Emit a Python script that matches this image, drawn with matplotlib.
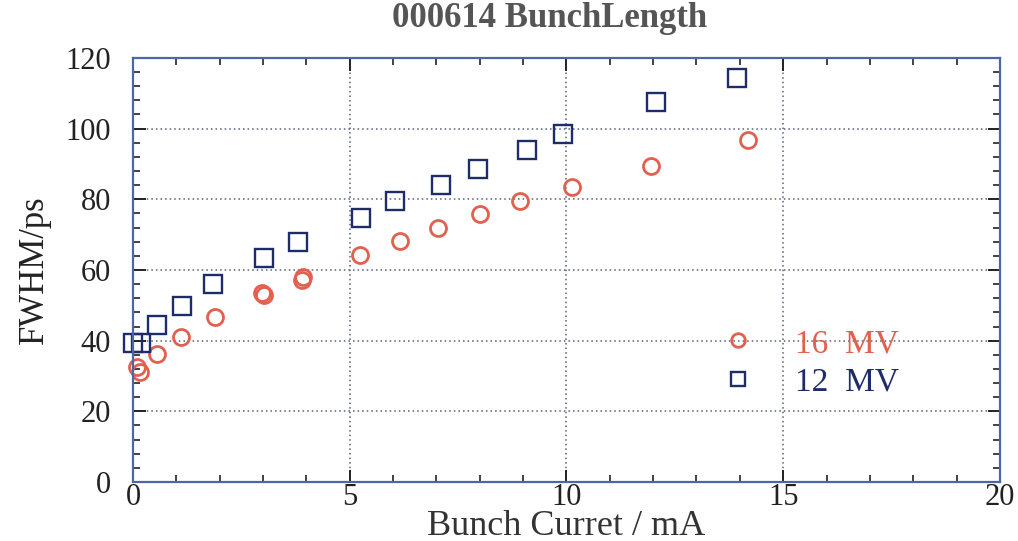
import matplotlib.pyplot as plt
from matplotlib.ticker import MultipleLocator

# Bunch current (mA) and FWHM (ps)
current_16mv = [0.08, 0.15, 0.55, 1.1, 1.89, 2.98, 3.02, 3.89, 3.92, 5.23, 6.17,
                7.03, 8.0, 8.93, 10.12, 11.95, 14.18]
fwhm_16mv = [32.5, 31.2, 36.3, 41.0, 46.8, 53.6, 53.0, 57.2, 57.9, 64.3, 68.1,
             71.9, 75.9, 79.4, 83.4, 89.3, 96.9]

current_12mv = [0.0, 0.18, 0.55, 1.13, 1.84, 3.02, 3.8, 5.25, 6.04, 7.1, 7.95,
                9.08, 9.93, 12.07, 13.94]
fwhm_12mv = [39.2, 39.2, 44.5, 49.9, 56.0, 63.5, 68.0, 74.8, 79.6, 83.9, 88.7,
             93.8, 98.6, 107.6, 114.4]

plt.rcParams['font.family'] = ['Liberation Serif', 'DejaVu Serif']

red = '#e2604f'
navy = '#1e2d6a'
axis_blue = '#4a68a8'

fig = plt.figure(figsize=(10.18, 5.41), dpi=100)
ax = fig.add_axes([0.1307, 0.109, 0.8515, 0.784])

ax.plot(current_16mv, fwhm_16mv, 'o', ms=11.5, mfc='none', mec=red, mew=2.0,
        label='16  MV', clip_on=False)
ax.plot(current_12mv, fwhm_12mv, 's', ms=12.5, mfc='none', mec=navy, mew=1.7,
        label='12  MV', clip_on=False)

ax.set_xlim(0, 20)
ax.set_ylim(0, 120)
ax.xaxis.set_major_locator(MultipleLocator(5))
ax.xaxis.set_minor_locator(MultipleLocator(1))
ax.yaxis.set_major_locator(MultipleLocator(20))
ax.yaxis.set_minor_locator(MultipleLocator(4))

ax.tick_params(which='both', direction='in', top=True, right=True,
               colors='#222222', labelsize=22, labelcolor='#222222')
ax.tick_params(which='major', length=9, width=1.4)
ax.tick_params(which='minor', length=5, width=1.2)
ax.tick_params(axis='x', pad=1)
ax.tick_params(axis='y', pad=16)

for side in ['left', 'bottom', 'top', 'right']:
    ax.spines[side].set_color(axis_blue)
    ax.spines[side].set_linewidth(1.6)

ax.grid(True, which='major', linestyle=(0, (1, 2)), color='#55607a', linewidth=1.1)

ax.set_xlabel('Bunch Curret / mA', fontsize=26, color='#333333', labelpad=-2)
ax.set_ylabel('FWHM/ps', fontsize=25, color='#222222', labelpad=10)
ax.set_title('000614 BunchLength', fontsize=25, fontweight='bold', color='#555555',
             pad=22, x=0.48)

leg = ax.legend(loc='center left', bbox_to_anchor=(0.625, 0.28), frameon=False,
                fontsize=24, handletextpad=0.7, labelspacing=0.25, markerscale=0.85)
leg.get_texts()[0].set_color(red)
leg.get_texts()[1].set_color(navy)

fig.savefig('out.png', dpi=100, facecolor='white')
